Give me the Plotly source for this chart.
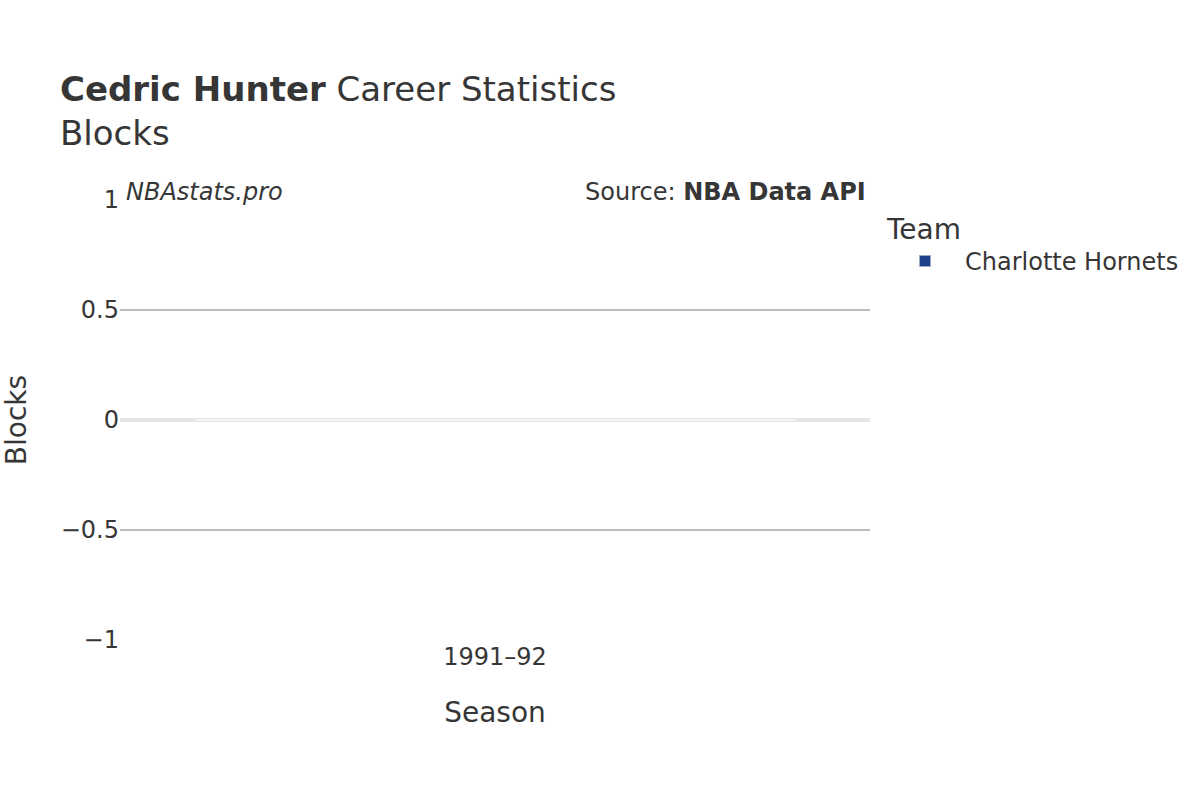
import plotly.graph_objects as go

seasons = ["1991–92"]
blocks = [0]
team = "Charlotte Hornets"
team_color = "#1D428A"

FONT = "DejaVu Sans"

fig = go.Figure()
fig.add_trace(go.Bar(
    x=seasons, y=blocks, name=team,
    marker=dict(color=team_color, line=dict(color="rgba(255,255,255,0.55)", width=2)),
    showlegend=True,
))

fig.update_layout(
    width=1200, height=800,
    paper_bgcolor="white", plot_bgcolor="white",
    font=dict(family=FONT, color="#363636", size=24),
    margin=dict(l=120, r=330, t=200, b=160, autoexpand=False),
    title=dict(
        text="<b>Cedric Hunter</b> Career Statistics<br>Blocks",
        x=60 / 1200, xanchor="left", xref="container",
        y=0.874, yanchor="top", yref="container",
        font=dict(size=34, family=FONT, color="#363636"),
    ),
    legend=dict(
        title=dict(text="<span style='font-size:28px'>Team</span>", font=dict(size=33)),
        font=dict(size=24),
        x=1.02, y=1.0 + 4 / 440, xanchor="left", yanchor="top",
        itemwidth=70,
    ),
    xaxis=dict(
        title=dict(text="Season", font=dict(size=28), standoff=32),
        showgrid=False, zeroline=False, showline=False,
        tickfont=dict(size=24),
    ),
    yaxis=dict(
        title=dict(text="Blocks", font=dict(size=28), standoff=38),
        automargin=True,
        range=[-1, 1], dtick=0.5,
        showgrid=True, gridcolor="#bdbdbd", gridwidth=2,
        zeroline=True, zerolinecolor="#e6e6e6", zerolinewidth=4,
        showline=False, tickfont=dict(size=24),
    ),
    bargap=0.2,
)

fig.add_annotation(
    text="<i>NBAstats.pro</i>", xref="paper", yref="paper",
    x=0, y=1.0, xanchor="left", yanchor="middle", showarrow=False,
    font=dict(size=24, family=FONT, color="#363636"), xshift=4, yshift=8,
)
fig.add_annotation(
    text="Source: <b>NBA Data API</b>", xref="paper", yref="paper",
    x=1, y=1.0, xanchor="right", yanchor="middle", showarrow=False,
    font=dict(size=24, family=FONT, color="#363636"), xshift=-2, yshift=8,
)

fig.write_html(
    "out.html",
    config={"displayModeBar": False},
    post_script="document.body.style.margin='0';",
)
